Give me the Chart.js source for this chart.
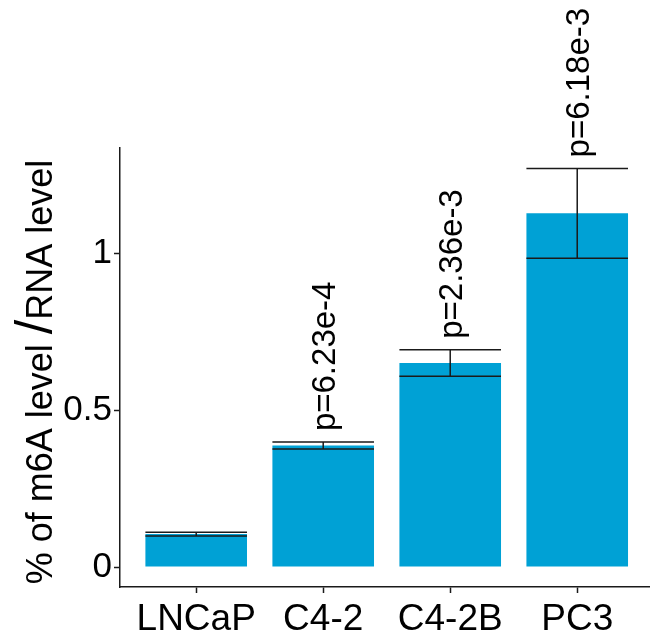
<!DOCTYPE html>
<html>
<head>
<meta charset="utf-8">
<script src="https://cdn.jsdelivr.net/npm/chart.js@4.4.1/dist/chart.umd.min.js"></script>
<style>
  html, body { margin: 0; padding: 0; background: #fff; }
</style>
</head>
<body>
<canvas id="chart" width="650" height="638"></canvas>
<script>
const cellLines = ["LNCaP", "C4-2", "C4-2B", "PC3"];
const meanLevel = [0.105, 0.387, 0.650, 1.127];
const sdLevel = [0.006, 0.011, 0.042, 0.143];
const pLabels = ["", "p=6.23e-4", "p=2.36e-3", "p=6.18e-3"];
const yTicks = [0, 0.5, 1];

const FONT = "'Liberation Sans', Arial, sans-serif";
const INK = "#1a1a1a";

// error bars + rotated p-value labels
const errorBars = {
  id: "errorBars",
  afterDatasetsDraw(chart) {
    const ctx = chart.ctx;
    const y = chart.scales.y;
    const meta = chart.getDatasetMeta(0);
    ctx.save();
    ctx.strokeStyle = INK;
    ctx.lineWidth = 1.5;
    meta.data.forEach((bar, i) => {
      const half = bar.width / 2;
      const top = y.getPixelForValue(meanLevel[i] + sdLevel[i]);
      const bot = y.getPixelForValue(meanLevel[i] - sdLevel[i]);
      ctx.beginPath();
      ctx.moveTo(bar.x - half, top); ctx.lineTo(bar.x + half, top);
      ctx.moveTo(bar.x - half, bot); ctx.lineTo(bar.x + half, bot);
      ctx.moveTo(bar.x, top); ctx.lineTo(bar.x, bot);
      ctx.stroke();
      if (pLabels[i]) {
        ctx.save();
        ctx.translate(bar.x + 12, top - 11);
        ctx.rotate(-Math.PI / 2);
        ctx.fillStyle = "#000";
        ctx.font = "33px " + FONT;
        ctx.textAlign = "left";
        ctx.textBaseline = "alphabetic";
        ctx.fillText(pLabels[i], 0, 0);
        ctx.restore();
      }
    });
    ctx.restore();
  }
};

// y-axis title with the bigger slash
const yTitle = {
  id: "yTitle",
  afterDraw(chart) {
    const ctx = chart.ctx;
    const parts = [
      ["% of m6A level ", 36],
      ["/", 52],
      ["RNA level", 36],
    ];
    ctx.save();
    let total = 0;
    parts.forEach(([t, s]) => {
      ctx.font = s + "px " + FONT;
      total += ctx.measureText(t).width;
    });
    ctx.translate(52, 372 + total / 2);
    ctx.rotate(-Math.PI / 2);
    ctx.fillStyle = "#000";
    ctx.textBaseline = "alphabetic";
    ctx.textAlign = "left";
    let x = 0;
    parts.forEach(([t, s]) => {
      ctx.font = s + "px " + FONT;
      ctx.fillText(t, x, 0);
      x += ctx.measureText(t).width;
    });
    ctx.restore();
  }
};

new Chart(document.getElementById("chart"), {
  type: "bar",
  data: {
    datasets: [{
      data: meanLevel.map((v, i) => ({ x: i + 1, y: v })),
      backgroundColor: "#00A1D5",
      borderWidth: 0,
      barPercentage: 0.8,
      categoryPercentage: 1,
    }],
  },
  options: {
    responsive: false,
    animation: false,
    devicePixelRatio: 1,
    layout: { padding: { top: 148, right: 0, left: 0, bottom: 0 } },
    plugins: { legend: { display: false }, tooltip: { enabled: false } },
    scales: {
      x: {
        type: "linear",
        offset: false,
        min: 0.4,
        max: 4.573,
        afterBuildTicks: (s) => { s.ticks = cellLines.map((_, i) => ({ value: i + 1 })); },
        afterFit: (s) => { s.height = 51; },
        grid: { offset: false, drawOnChartArea: false, tickLength: 6, color: INK, tickWidth: 1.5 },
        border: { display: true, color: INK, width: 1.5 },
        ticks: {
          color: "#000",
          font: { family: FONT, size: 37 },
          padding: 5,
          maxRotation: 0,
          autoSkip: false,
          callback: (v) => cellLines[Math.round(v) - 1] || "",
        },
      },
      y: {
        min: -0.0636,
        max: 1.335,
        afterBuildTicks: (s) => { s.ticks = yTicks.map((v) => ({ value: v })); },
        afterFit: (s) => { s.width = 120; },
        grid: { drawOnChartArea: false, tickLength: 6, color: INK, tickWidth: 1.5 },
        border: { display: true, color: INK, width: 1.5 },
        ticks: {
          color: "#000",
          font: { family: FONT, size: 35 },
          padding: 2,
          callback: (v) => String(v),
        },
      },
    },
  },
  plugins: [errorBars, yTitle],
});
</script>
</body>
</html>
